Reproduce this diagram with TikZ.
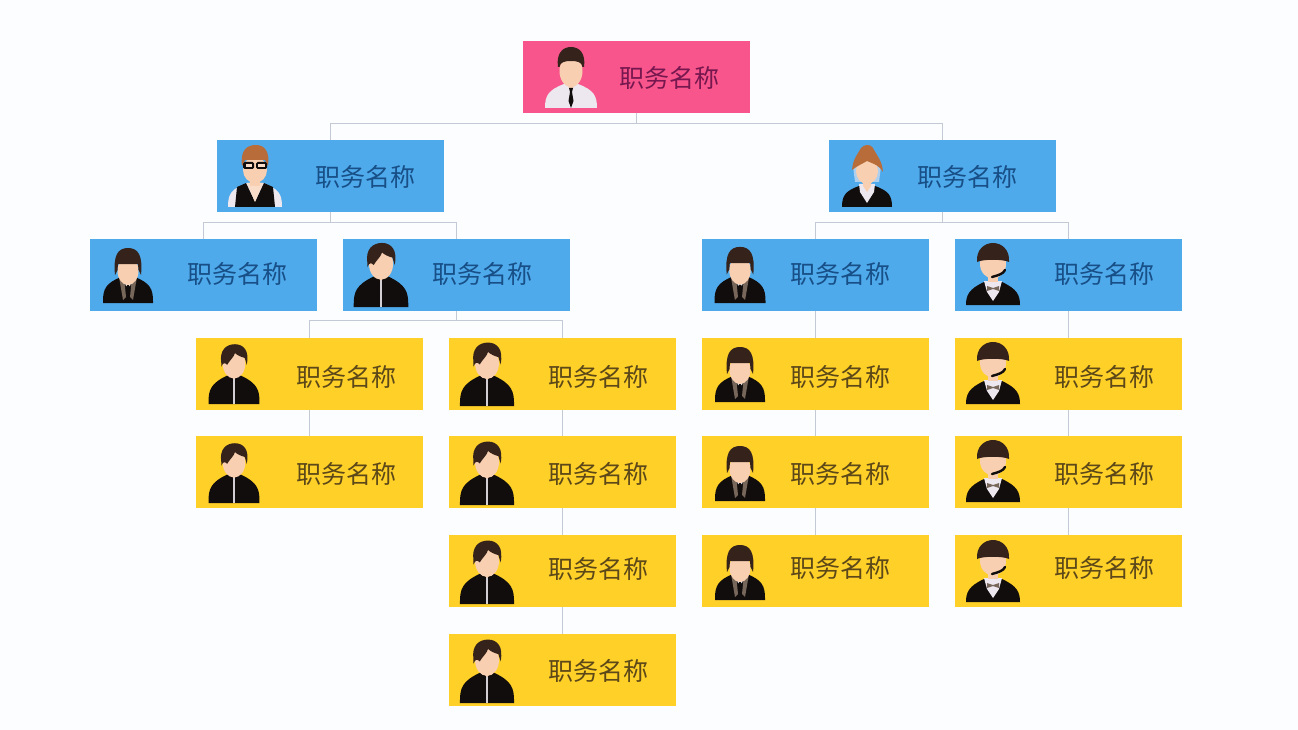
\documentclass[tikz,border=0pt]{standalone}
\usepackage{fontspec}
\setmainfont{Noto Sans CJK SC}
\usetikzlibrary{calc}
\definecolor{paper}{HTML}{FCFDFE}
\definecolor{rosefill}{HTML}{F7558B}
\definecolor{skyfill}{HTML}{4FAAEC}
\definecolor{sunfill}{HTML}{FFD027}
\definecolor{roseink}{HTML}{76184F}
\definecolor{skyink}{HTML}{174F86}
\definecolor{sunink}{HTML}{5C4818}
\definecolor{wire}{HTML}{C3CAD6}
\definecolor{skin}{HTML}{F8CFB0}
\definecolor{darkhair}{HTML}{35221B}
\definecolor{redhair}{HTML}{B76C3A}
\definecolor{jacket}{HTML}{110D0C}
\definecolor{shirt}{HTML}{EDE8F0}
\definecolor{trim}{HTML}{77665A}
\tikzset{
  x=1pt, y=-1pt,
  card/.style={minimum width=227pt, minimum height=72pt, inner sep=0pt, draw=none},
  rosecard/.style={card, fill=rosefill},
  skycard/.style={card, fill=skyfill},
  suncard/.style={card, fill=sunfill},
  title/.style={font=\fontsize{25pt}{27pt}\selectfont, inner sep=0pt},
  rosetitle/.style={title, text=roseink},
  skytitle/.style={title, text=skyink},
  suntitle/.style={title, text=sunink},
  wireline/.style={draw=wire, line width=1pt},
  % office worker in a white shirt and black tie
  shirtman/.pic={
    \fill[shirt] (-26,-1) .. controls (-26,-13) and (-23,-19) .. (-7,-25) -- (7,-25) .. controls (23,-19) and (26,-13) .. (26,-1) -- cycle;
    \fill[skin] (-5,-32) -- (5,-32) -- (5,-26) -- (0,-18) -- (-5,-26) -- cycle;
    \fill[jacket] (-2,-21) -- (2,-21) -- (1,-17) -- (2.5,-8) -- (0,-1) -- (-2.5,-8) -- (-1,-17) -- cycle;
    \fill[skin] (0,-38) ellipse [x radius=11.5, y radius=16];
    \fill[darkhair] (-13,-42) .. controls (-15,-56) and (-8,-62) .. (0,-62) .. controls (8,-62) and (15,-56) .. (13,-42) -- (11.5,-42) .. controls (11,-47) and (6,-48) .. (0,-48) .. controls (-6,-48) and (-11,-47) .. (-11.5,-42) -- cycle;
  },
  % man with glasses and a black waistcoat
  vestman/.pic={
    \fill[shirt] (-27,-1) .. controls (-27,-14) and (-24,-19) .. (-8,-25) -- (8,-25) .. controls (24,-19) and (27,-14) .. (27,-1) -- cycle;
    \fill[jacket] (-20,-1) -- (-18,-21) -- (-9,-25) -- (0,-6) -- (9,-25) -- (18,-21) -- (20,-1) -- cycle;
    \fill[skin!70!white] (-8,-25) -- (8,-25) -- (0,-6) -- cycle;
    \fill[skin] (-5,-32) rectangle (5,-22);
    \fill[skin] (0,-38) ellipse [x radius=12, y radius=13];
    \fill[redhair] (-13,-42) .. controls (-15,-58) and (-8,-63) .. (1,-63) .. controls (10,-63) and (15,-56) .. (13,-42) -- (10,-48) -- (-10,-48) -- cycle;
    \fill[jacket, rounded corners=1.5pt] (-12,-46) rectangle (-1,-39);
    \fill[jacket, rounded corners=1.5pt] (1,-46) rectangle (12,-39);
    \fill[skin!70!white] (-9.5,-44) rectangle (-3,-41);
    \fill[skin!70!white] (3,-44) rectangle (9.5,-41);
  },
  % woman with swept-up hair and a dark blazer
  blazerwoman/.pic={
    \fill[jacket] (-25,-1) .. controls (-25,-12) and (-22,-17) .. (-8,-22) -- (8,-22) .. controls (22,-17) and (25,-12) .. (25,-1) -- cycle;
    \fill[shirt] (-8,-24) -- (8,-24) -- (7,-16) -- (0,-5) -- (-7,-16) -- cycle;
    \fill[skin] (-4,-30) -- (4,-30) -- (4,-22) -- (0,-16) -- (-4,-22) -- cycle;
    \fill[shirt!60!skyfill] (-14,-42) -- (14,-42) -- (12,-26) -- (-12,-26) -- cycle;
    \fill[skin] (0,-37) ellipse [x radius=11, y radius=13];
    \fill[redhair] (-15,-38) .. controls (-14,-50) and (-9,-54) .. (-6,-60) .. controls (-3,-64) and (4,-64) .. (6,-60) .. controls (10,-52) and (15,-48) .. (16,-36) .. controls (11,-44) and (4,-45) .. (0,-47) .. controls (-5,-44) and (-10,-42) .. (-15,-38) -- cycle;
  },
  % man with a straight fringe and a patterned jacket
  fringeman/.pic={
    \fill[jacket] (-25,-2) .. controls (-25,-14) and (-22,-20) .. (-7,-26) -- (7,-26) .. controls (22,-20) and (25,-14) .. (25,-2) -- (25,0) -- (-25,0) -- cycle;
    \fill[trim] (-9,-26) -- (-4,-26) -- (-2,-6) -- (-5,-3) -- cycle;
    \fill[trim] (9,-26) -- (4,-26) -- (2,-6) -- (5,-3) -- cycle;
    \fill[shirt] (-5,-27) -- (5,-27) -- (2,-17) -- (-2,-17) -- cycle;
    \fill[jacket] (-1.2,-18) -- (1.2,-18) -- (1.5,-8) -- (-1.5,-8) -- cycle;
    \fill[skin] (-4,-28) -- (4,-28) -- (4,-22) -- (0,-19) -- (-4,-22) -- cycle;
    \fill[skin] (0,-32) ellipse [x radius=10.5, y radius=14];
    \fill[darkhair] (-13,-28) .. controls (-15,-48) and (-10,-55) .. (0,-55) .. controls (10,-55) and (15,-48) .. (13,-28) -- (10.5,-33) -- (10,-39) -- (-10,-39) -- (-10.5,-33) -- cycle;
  },
  % man with swept hair and a zipped jacket
  zipman/.pic={
    \fill[jacket] (-26,-2) .. controls (-26,-14) and (-24,-21) .. (-7,-29) -- (7,-29) .. controls (24,-21) and (26,-14) .. (26,-2) -- (26,0) -- (-26,0) -- cycle;
    \fill[shirt!75!gray] (-1.2,-28) rectangle (1.2,0);
    \fill[skin] (-4.5,-34) -- (4.5,-34) -- (4.5,-30) -- (0,-25) -- (-4.5,-30) -- cycle;
    \fill[skin] (0,-41) ellipse [x radius=11.5, y radius=15];
    \fill[darkhair] (-13,-42) .. controls (-15,-55) and (-8,-61) .. (1,-61) .. controls (10,-61) and (16,-54) .. (13,-40) -- (11,-47) .. controls (7,-48) and (3,-50) .. (1,-52) .. controls (0,-48) and (-4,-45) .. (-7,-40) .. controls (-9,-42) and (-11,-43) .. (-13,-38) -- cycle;
  },
  % call-centre agent with a headset and bow tie
  headsetman/.pic={
    \fill[jacket] (-27,-1) .. controls (-27,-11) and (-24,-17) .. (-9,-24) -- (9,-24) .. controls (24,-17) and (27,-11) .. (27,-1) -- cycle;
    \fill[shirt] (-9,-25) -- (9,-25) -- (6,-14) -- (0,-5) -- (-6,-14) -- cycle;
    \fill[trim] (-6,-20) -- (0,-18) -- (6,-20) -- (6,-15) -- (0,-17) -- (-6,-15) -- cycle;
    \fill[skin] (-5,-32) rectangle (5,-24);
    \fill[skin] (0,-42) ellipse [x radius=13, y radius=14.5];
    \fill[darkhair] (-16,-44) .. controls (-17,-56) and (-9,-63) .. (0,-63) .. controls (9,-63) and (17,-56) .. (16,-44) .. controls (10,-47) and (-10,-47) .. (-16,-44) -- cycle;
    \draw[jacket, line width=2.4pt, line cap=round] (12,-36) .. controls (10,-32) and (6,-31) .. (-1,-29);
  }
}
% One organisation-chart card: box, caption and portrait.
% #1 id, #2 #3 box centre, #4 colour family, #5 #6 caption centre, #7 portrait, #8 portrait foot, #9 portrait scale
\newcommand{\orgcard}[9]{
  \node[#4card] (#1) at (#2,#3) {};
  \node[#4title] (#1-title) at (#5,#6) {职务名称};
  \pic[scale=#9] at #8 {#7};
}
\begin{document}
\begin{tikzpicture}
\useasboundingbox (0,0) rectangle (1298,730);
\fill[paper] (0,0) rectangle (1298,730);

% top of the chart
\orgcard{root}{636}{77}{rose}{669}{78}{shirtman}{(571,109)}{1}

% second level
\orgcard{deptl}{330}{176}{sky}{365}{177}{vestman}{(255,208)}{1}
\orgcard{deptr}{942}{176}{sky}{967}{177}{blazerwoman}{(867,208)}{1}

% third level
\orgcard{teama}{203.5}{275}{sky}{237}{274}{fringeman}{(128,303)}{1}
\orgcard{teamb}{456.5}{275}{sky}{482}{274}{zipman}{(381,307)}{1.05}
\orgcard{teamc}{815.5}{275}{sky}{840}{274}{fringeman}{(740,303)}{1.02}
\orgcard{teamd}{1068.5}{275}{sky}{1104}{274}{headsetman}{(993,306)}{1}

% staff column under the second team, left
\orgcard{a1}{309.5}{374}{sun}{346}{377}{zipman}{(234,404)}{.98}
\orgcard{a2}{309.5}{472}{sun}{346}{474}{zipman}{(234,503)}{.98}

% staff column under the second team, right
\orgcard{b1}{562.5}{374}{sun}{598}{377}{zipman}{(487,406)}{1.04}
\orgcard{b2}{562.5}{472}{sun}{598}{474}{zipman}{(487,505)}{1.04}
\orgcard{b3}{562.5}{571}{sun}{598}{569}{zipman}{(487,604)}{1.04}
\orgcard{b4}{562.5}{670}{sun}{598}{671}{zipman}{(487,703)}{1.04}

% staff column under the third team
\orgcard{c1}{815.5}{374}{sun}{840}{377}{fringeman}{(740,402)}{1}
\orgcard{c2}{815.5}{472}{sun}{840}{474}{fringeman}{(740,501)}{1}
\orgcard{c3}{815.5}{571}{sun}{840}{568}{fringeman}{(740,600)}{1}

% staff column under the fourth team
\orgcard{d1}{1068.5}{374}{sun}{1104}{377}{headsetman}{(993,405)}{1}
\orgcard{d2}{1068.5}{472}{sun}{1104}{474}{headsetman}{(993,503)}{1}
\orgcard{d3}{1068.5}{571}{sun}{1104}{568}{headsetman}{(993,603)}{1}

% branching connectors
\coordinate (busroot) at ($(root.south)+(0,10)$);
\draw[wireline] (root.south) -- (busroot);
\draw[wireline] (deptl.north) |- (busroot) -| (deptr.north);

\coordinate (busl) at ($(deptl.south)+(0,10)$);
\draw[wireline] (deptl.south) -- (busl);
\draw[wireline] (teama.north) |- (busl) -| (teamb.north);

\coordinate (busr) at ($(deptr.south)+(0,10)$);
\draw[wireline] (deptr.south) -- (busr);
\draw[wireline] (teamc.north) |- (busr) -| (teamd.north);

\coordinate (busb) at ($(teamb.south)+(0,9)$);
\draw[wireline] (teamb.south) -- (busb);
\draw[wireline] (a1.north) |- (busb) -| (b1.north);

% straight links inside each column
\draw[wireline] (a1.south) -- (a2.north);
\draw[wireline] (b1.south) -- (b2.north);
\draw[wireline] (b2.south) -- (b3.north);
\draw[wireline] (b3.south) -- (b4.north);
\draw[wireline] (teamc.south) -- (c1.north);
\draw[wireline] (c1.south) -- (c2.north);
\draw[wireline] (c2.south) -- (c3.north);
\draw[wireline] (teamd.south) -- (d1.north);
\draw[wireline] (d1.south) -- (d2.north);
\draw[wireline] (d2.south) -- (d3.north);
\end{tikzpicture}
\end{document}
